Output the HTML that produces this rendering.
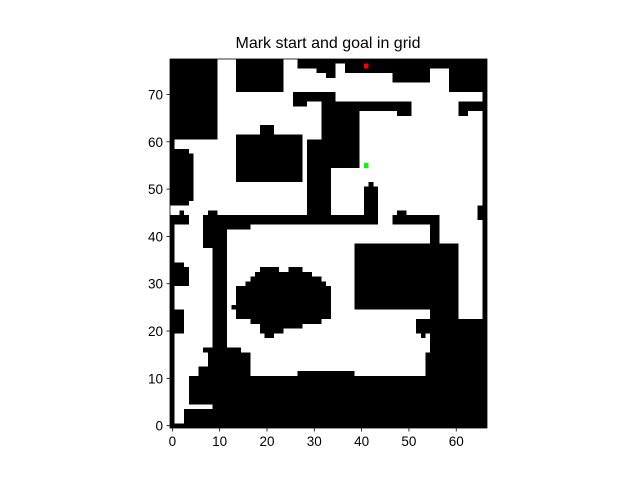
<!DOCTYPE html>
<html><head><meta charset="utf-8"><style>
html,body{margin:0;padding:0;background:#fff;}
svg{display:block;font-family:"Liberation Sans","DejaVu Sans",sans-serif;}
</style></head><body>
<svg id="chart" width="640" height="480" viewBox="0 0 640 480" xmlns="http://www.w3.org/2000/svg">
<rect x="0" y="0" width="640" height="480" fill="#fff"/>
<text x="328" y="48" font-size="16" text-anchor="middle" fill="#000">Mark start and goal in grid</text>
<g id="cells" shape-rendering="crispEdges"></g>
<g id="marks" shape-rendering="crispEdges"></g>
<rect x="170" y="59" width="317" height="369" fill="none" stroke="#000" stroke-width="0.8"/>
<g id="axes"></g>
</svg>
<script>
// obstacle rectangles in grid cells: [col0, rowTop0, col1, rowTop1) (rowTop counts from top row)
const obstacles = [
 [0,0,10,17],[14,0,24,7],[27,0,67,1],[27,1,31,2],[31,1,34,3],[33,0,35,4],[37,0,47,3],[47,0,55,5],[55,0,59,2],[59,0,67,7],
 [26,7,29,10],[29,7,34,9],[33,7,35,9],[32,9,40,23],[29,17,34,33],[35,9,51,11],[48,11,51,12],
 [61,9,67,11],[61,11,63,12],[66,6,67,78],[65,31,67,34],[19,14,22,16],[14,16,28,26],
 [42,26,43,27],[41,27,44,34],[7,33,44,35],[47,33,57,35],[48,32,50,33],[55,35,57,39],[8,32,10,33],
 [0,17,1,19],[0,19,4,31],[4,20,5,30],[2,32,3,33],[0,33,4,35],[0,35,1,78],[0,77,67,78],
 [0,43,3,44],[0,44,4,48],[0,53,3,58],[7,35,12,40],[12,35,17,36],[9,40,12,61],
 [7,61,15,62],[8,62,17,65],[6,65,17,67],[4,67,35,73],[9,73,35,74],[3,74,35,77],
 [33,67,67,77],[27,66,39,67],[39,39,61,53],[55,53,61,55],[55,55,67,67],[52,55,55,58],[53,58,54,59],[54,62,55,67],
 [19,44,23,45],[25,44,28,45],[18,45,30,46],[17,46,32,47],[16,47,33,48],[14,48,34,52],[13,52,34,53],
 [14,53,34,55],[17,55,32,56],[19,56,24,58],[24,56,28,57],[20,58,22,59]
];
const markX = [41, 41];
const markY = [76, 55];
const markColors = ['#ff0000', '#00ff00'];
const markNames = ['start-marker', 'goal-marker'];
const xTicks = [0,10,20,30,40,50,60];
const yTicks = [0,10,20,30,40,50,60,70];
const NC = 67, NR = 78;
const X0 = 170, Y0 = 59, W = 317, H = 369;
const cw = W/NC, ch = H/NR;
const colPx = c => X0 + c*cw;
const rowPx = r => Y0 + r*ch;
const xv = v => X0 + (v+0.5)*cw;
const yv = v => Y0 + (NR-0.5-v)*ch;
const NS = 'http://www.w3.org/2000/svg';
const cells = document.getElementById('cells');
obstacles.forEach(o => {
  const r = document.createElementNS(NS,'rect');
  
  
  r.setAttribute('x', colPx(o[0])); r.setAttribute('y', rowPx(o[1]));
  r.setAttribute('width', (o[2]-o[0])*cw); r.setAttribute('height', (o[3]-o[1])*ch);
  r.setAttribute('fill', '#000');
  cells.appendChild(r);
});
const marks = document.getElementById('marks');
markX.forEach((mx,i) => {
  const r = document.createElementNS(NS,'rect');
  
  
  r.setAttribute('x', xv(mx)-cw/2); r.setAttribute('y', yv(markY[i])-ch/2);
  r.setAttribute('width', cw); r.setAttribute('height', ch);
  r.setAttribute('fill', markColors[i]);
  marks.appendChild(r);
});
const axes = document.getElementById('axes');
xTicks.forEach(t => {
  const l = document.createElementNS(NS,'line');
  
  
  l.setAttribute('x1', xv(t)); l.setAttribute('x2', xv(t));
  l.setAttribute('y1', Y0+H); l.setAttribute('y2', Y0+H+3.5);
  l.setAttribute('stroke', '#000'); l.setAttribute('stroke-width', '0.8');
  axes.appendChild(l);
  const tx = document.createElementNS(NS,'text');
  
  
  tx.setAttribute('x', xv(t)); tx.setAttribute('y', Y0+H+18);
  tx.setAttribute('font-size', '13.5'); tx.setAttribute('text-anchor', 'middle');
  tx.textContent = t;
  axes.appendChild(tx);
});
yTicks.forEach(t => {
  const l = document.createElementNS(NS,'line');
  
  
  l.setAttribute('x1', X0-3.5); l.setAttribute('x2', X0);
  l.setAttribute('y1', yv(t)); l.setAttribute('y2', yv(t));
  l.setAttribute('stroke', '#000'); l.setAttribute('stroke-width', '0.8');
  axes.appendChild(l);
  const tx = document.createElementNS(NS,'text');
  
  
  tx.setAttribute('x', X0-7); tx.setAttribute('y', yv(t)+5);
  tx.setAttribute('font-size', '13.5'); tx.setAttribute('text-anchor', 'end');
  tx.textContent = t;
  axes.appendChild(tx);
});
</script>
</body></html>
